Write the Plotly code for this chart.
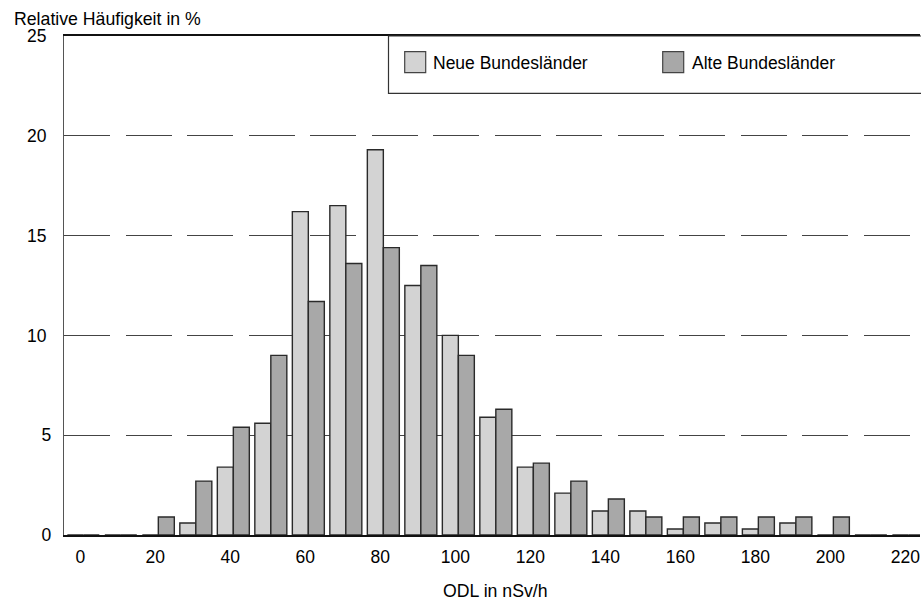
import plotly.graph_objects as go

# ---- data ----
odl_bins = [0, 10, 20, 30, 40, 50, 60, 70, 80, 90, 100, 110, 120, 130, 140,
            150, 160, 170, 180, 190, 200, 210, 220]
neue = [0, 0, 0, 0.6, 3.4, 5.6, 16.2, 16.5, 19.3, 12.5, 10.0, 5.9, 3.4, 2.1, 1.2,
        1.2, 0.3, 0.6, 0.3, 0.6, 0, 0, 0]
alte = [0, 0, 0.9, 2.7, 5.4, 9.0, 11.7, 13.6, 14.4, 13.5, 9.0, 6.3, 3.6, 2.7, 1.8,
        0.9, 0.9, 0.9, 0.9, 0.9, 0.9, 0, 0]
x_tickvals = [0, 20, 40, 60, 80, 100, 120, 140, 160, 180, 200, 220]
x_ticktext = ["0", "20", "40", "60", "80", "100", "120", "140", "160", "180", "200", "220"]
y_tickvals = [0, 5, 10, 15, 20, 25]
y_ticktext = ["0", "5", "10\u00a0", "15\u00a0", "20\u00a0", "25\u00a0"]
name_neue = "Neue Bundesländer"
name_alte = "Alte Bundesländer"
y_title = "Relative Häufigkeit in %"
x_title = "ODL in nSv/h"

# ---- layout geometry (pixels) ----
W, H = 921, 604
L, R, T, B = 64, 920, 36, 535
FONT = "Liberation Sans, Arial, sans-serif"
FS = 17.5
col_neue = "#d3d3d3"
col_alte = "#a8a8a8"
edge = "#2a2a2a"


def px_x(p):
    return (p - L) / (R - L)


def px_y(p):
    return (B - p) / (B - T)


fig = go.Figure()
fig.add_trace(go.Bar(x=odl_bins, y=neue, name=name_neue, showlegend=False,
                     marker=dict(color=col_neue, line=dict(color=edge, width=1.4))))
fig.add_trace(go.Bar(x=odl_bins, y=alte, name=name_alte, showlegend=False,
                     marker=dict(color=col_alte, line=dict(color=edge, width=1.4))))

shapes = []
# legend frame
shapes.append(dict(type="rect", xref="paper", yref="paper",
                   x0=px_x(388.5), x1=px_x(925), y0=px_y(93.3), y1=px_y(36),
                   line=dict(color="#333333", width=1.2), fillcolor="white", layer="above"))
annotations = []
for sx, tx, col, nm in [(404.7, 430.7, col_neue, name_neue), (662.7, 690, col_alte, name_alte)]:
    shapes.append(dict(type="rect", xref="paper", yref="paper",
                       x0=px_x(sx), x1=px_x(sx + 21), y0=px_y(72.7), y1=px_y(51.7),
                       line=dict(color="#444444", width=1.2), fillcolor=col, layer="above"))
    annotations.append(dict(text=nm, xref="paper", yref="paper", x=px_x(tx), y=px_y(63),
                            xanchor="left", yanchor="middle", showarrow=False,
                            font=dict(size=FS, color="black", family=FONT)))

annotations.append(dict(text=y_title, xref="paper", yref="paper", x=px_x(11.5), y=px_y(19),
                        xanchor="left", yanchor="middle", showarrow=False,
                        font=dict(size=17.7, color="black", family=FONT)))
annotations.append(dict(text=x_title, xref="paper", yref="paper", x=px_x(495), y=px_y(591),
                        xanchor="center", yanchor="middle", showarrow=False,
                        font=dict(size=17.7, color="black", family=FONT)))

fig.update_layout(
    width=W, height=H, autosize=False,
    margin=dict(l=L, r=W - R, t=T, b=H - B, pad=0),
    paper_bgcolor="white", plot_bgcolor="white",
    barmode="group", bargap=0.147, bargroupgap=0,
    font=dict(family=FONT, size=FS, color="black"),
    shapes=shapes, annotations=annotations,
    xaxis=dict(range=[-5.15, 223.1], tickmode="array", tickvals=x_tickvals, ticktext=x_ticktext,
               showgrid=False, zeroline=False, showline=True, linecolor="#111111", linewidth=1.5,
               mirror=True, ticks="", ticklabelstandoff=5, ticklabelshift=-3,
               tickfont=dict(size=FS)),
    yaxis=dict(range=[0, 25], tickmode="array", tickvals=y_tickvals, ticktext=y_ticktext,
               showgrid=True, gridcolor="#444444", gridwidth=1.2, griddash="46px,15.5px",
               zeroline=False, showline=True, linecolor="#555555", linewidth=1.3,
               ticks="", ticklabelstandoff=8, tickfont=dict(size=FS)),
)

fig.write_html("out.html", config={"displayModeBar": False},
               post_script="document.body.style.margin='0px';document.body.style.overflow='hidden';")
